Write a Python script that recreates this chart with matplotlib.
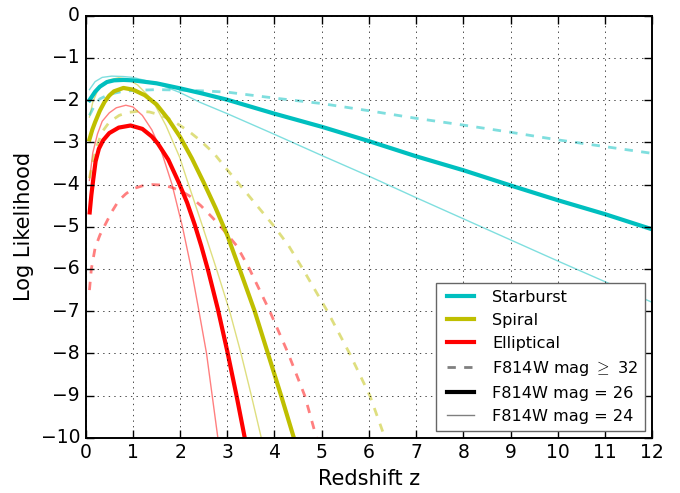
import numpy as np
import matplotlib
matplotlib.use('Agg')
import matplotlib.pyplot as plt
from matplotlib.lines import Line2D

plt.style.use('classic')

# Starburst
sb26_z = [0.08, 0.2, 0.3, 0.45, 0.6, 0.8, 1.0, 1.5, 2.0, 2.5, 3, 4, 5, 6, 7, 8, 9, 10, 11, 12]
sb26_l = [-2.0, -1.8, -1.68, -1.57, -1.53, -1.52, -1.53, -1.6, -1.72, -1.85, -1.99, -2.32, -2.63, -2.97, -3.33, -3.66, -4.02, -4.37, -4.70, -5.06]
sb32_z = [0.08, 0.2, 0.3, 0.5, 0.75, 1.0, 1.5, 2.0, 2.5, 3, 4, 5, 6, 7, 8, 9, 10, 11, 12]
sb32_l = [-2.36, -2.1, -1.97, -1.86, -1.8, -1.77, -1.75, -1.76, -1.78, -1.81, -1.95, -2.08, -2.25, -2.43, -2.59, -2.76, -2.94, -3.1, -3.26]
sb24_z = [0.08, 0.2, 0.35, 0.55, 0.8, 1.0, 1.5, 2.0, 2.42, 3, 4, 5, 6, 7, 8, 9, 10, 11, 12]
sb24_l = [-1.75, -1.56, -1.46, -1.43, -1.44, -1.46, -1.6, -1.82, -2.05, -2.32, -2.81, -3.31, -3.80, -4.31, -4.81, -5.31, -5.81, -6.30, -6.79]

# Spiral
sp26_z = [0.08, 0.14, 0.2, 0.3, 0.4, 0.5, 0.6, 0.8, 1.0, 1.25, 1.5, 1.75, 2.0, 2.25, 2.5, 2.75, 3.0, 3.26, 3.58, 3.86, 4.14, 4.41]
sp26_l = [-2.93, -2.7, -2.52, -2.25, -2.04, -1.89, -1.79, -1.71, -1.75, -1.88, -2.1, -2.45, -2.87, -3.38, -3.95, -4.55, -5.2, -6.0, -7.0, -8.0, -9.0, -10.0]
sp32_z = [0.08, 0.14, 0.25, 0.35, 0.5, 0.71, 0.9, 1.13, 1.35, 1.55, 1.8, 2.0, 2.2, 2.4, 2.71, 3.0, 3.26, 3.63, 4.0, 4.3, 4.6, 5.12, 5.59, 6.02, 6.34]
sp32_l = [-3.85, -3.5, -3.05, -2.75, -2.52, -2.36, -2.29, -2.26, -2.28, -2.34, -2.46, -2.6, -2.75, -2.93, -3.25, -3.65, -4.0, -4.5, -5.0, -5.45, -6.0, -7.0, -8.0, -9.0, -10.0]
sp24_z = [0.08, 0.15, 0.25, 0.35, 0.5, 0.7, 0.9, 1.1, 1.41, 1.7, 1.99, 2.15, 2.45, 2.77, 3.05, 3.29, 3.51, 3.72]
sp24_l = [-2.4, -2.05, -1.78, -1.62, -1.52, -1.47, -1.51, -1.64, -1.99, -2.6, -3.35, -3.9, -4.9, -6.0, -7.0, -8.0, -9.0, -10.0]

# Elliptical
el26_z = [0.085, 0.12, 0.16, 0.21, 0.28, 0.37, 0.5, 0.7, 0.95, 1.2, 1.4, 1.53, 1.75, 1.96, 2.15, 2.31, 2.45, 2.6, 2.8, 3.0, 3.19, 3.37]
el26_l = [-4.66, -4.25, -3.88, -3.45, -3.15, -2.95, -2.78, -2.65, -2.6, -2.68, -2.86, -3.03, -3.41, -3.92, -4.43, -4.95, -5.46, -6.06, -6.95, -7.95, -8.97, -10.0]
el32_z = [0.08, 0.12, 0.2, 0.3, 0.39, 0.55, 0.7, 0.85, 1.0, 1.2, 1.4, 1.6, 1.8, 2.0, 2.2, 2.44, 2.7, 2.9, 3.2, 3.47, 3.9, 4.29, 4.64, 4.89]
el32_l = [-6.5, -6.0, -5.5, -5.2, -5.0, -4.65, -4.38, -4.22, -4.1, -4.03, -4.0, -4.01, -4.06, -4.14, -4.27, -4.5, -4.8, -5.05, -5.45, -6.0, -7.0, -8.0, -9.0, -10.0]
el24_z = [0.08, 0.15, 0.25, 0.35, 0.5, 0.65, 0.85, 1.0, 1.2, 1.4, 1.6, 1.83, 2.05, 2.22, 2.4, 2.56, 2.68, 2.8]
el24_l = [-3.9, -3.25, -2.8, -2.5, -2.3, -2.18, -2.12, -2.16, -2.36, -2.7, -3.2, -4.0, -5.0, -5.9, -7.0, -8.0, -9.0, -10.0]

fig = plt.figure(figsize=(6.8, 4.93), dpi=100, facecolor='white')
ax = fig.add_axes([0.126, 0.112, 0.833, 0.856])

# thin (mag 24) and dashed (mag >= 32), then thick (mag 26)
for z, l, c in [(sb24_z, sb24_l, 'c'), (sp24_z, sp24_l, 'y'), (el24_z, el24_l, 'r')]:
    ax.plot(z, l, color=c, lw=1, alpha=0.5)
for z, l, c in [(sb32_z, sb32_l, 'c'), (sp32_z, sp32_l, 'y'), (el32_z, el32_l, 'r')]:
    ax.plot(z, l, color=c, lw=2, ls='--', alpha=0.5)
for z, l, c in [(sb26_z, sb26_l, 'c'), (sp26_z, sp26_l, 'y'), (el26_z, el26_l, 'r')]:
    ax.plot(z, l, color=c, lw=3)

ax.set_xlim(0, 12)
ax.set_ylim(-10, 0)
ax.set_xticks(range(0, 13))
ax.set_yticks(range(-10, 1))
ax.tick_params(labelsize=13.5, length=6, width=1)
for s in ax.spines.values():
    s.set_linewidth(1.4)
ax.grid(True)
ax.set_xlabel('Redshift z', fontsize=15)
ax.set_ylabel('Log Likelihood', fontsize=15)

handles = [Line2D([], [], color='c', lw=3),
           Line2D([], [], color='y', lw=3),
           Line2D([], [], color='r', lw=3),
           Line2D([], [], color='k', lw=2, ls='--', alpha=0.5),
           Line2D([], [], color='k', lw=3),
           Line2D([], [], color='k', lw=1, alpha=0.5)]
labels = ['Starburst', 'Spiral', 'Elliptical',
          r'F814W mag $\geq$ 32', 'F814W mag = 26', 'F814W mag = 24']
leg = ax.legend(handles, labels, loc='lower right', fontsize=11.6,
                handlelength=2.3, borderaxespad=0.45)
leg.get_frame().set_edgecolor('0.4')

fig.savefig('out.png', dpi=100, facecolor='white')
